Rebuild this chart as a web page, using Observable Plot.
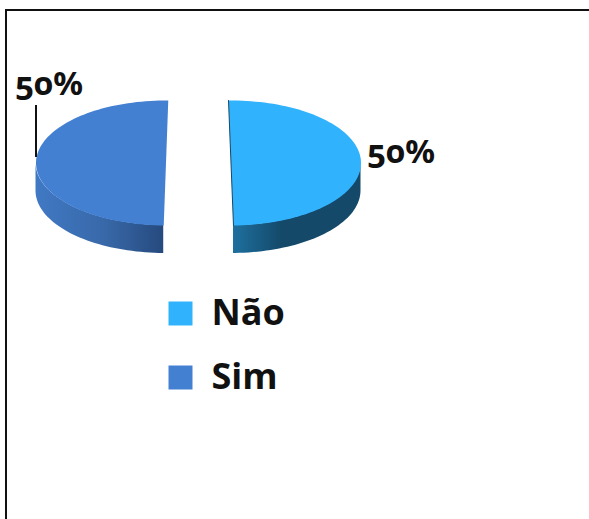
<!DOCTYPE html>
<html><head><meta charset="utf-8">
<script src="https://cdn.jsdelivr.net/npm/d3@7"></script>
<script src="https://cdn.jsdelivr.net/npm/@observablehq/plot@0.6"></script>
<style>
html,body{margin:0;padding:0;background:#fff;overflow:hidden}
#frame{position:absolute;left:5px;top:9px;width:584px;height:510px;border-top:2px solid #111;border-left:2px solid #111;box-sizing:border-box}
#chart{position:absolute;left:0;top:0}
svg{display:block}
</style></head><body>
<div id="frame"></div><div id="chart"></div>
<script>
const categories = ["Não", "Sim"];
const values = [50, 50];
const topColors = ["#31b2fc", "#4480d2"];

// layout of the exploded, tilted pie
const centers = [230.5, 165.5];
const tilts = [-1.1, 1];
const cy = 162.5, rx = 130, ry = 62.5, depth = 28, step = 2;
const labelAt = [[400.5, 152], [48.5, 84]];
const legendX = 180, legendText = 211, legendY = [313, 377];
const leaderX = 35.5, leaderY = [105, 157];

const arcs = d3.pie().sort(null).value(d => d)(values);
const rows = arcs.map((a, i) => ({
  name: categories[i], cx: centers[i],
  a0: a.startAngle * 180 / Math.PI + tilts[i],
  a1: a.endAngle * 180 / Math.PI + tilts[i]
}));
const pt = (s, deg) => ({
  name: s.name,
  x: s.cx + rx * Math.sin(deg * Math.PI / 180),
  y: cy - ry * Math.cos(deg * Math.PI / 180)
});
const faces = rows.flatMap(s => d3.range(s.a0, s.a1, step).concat(s.a1).map(d => pt(s, d)));
const side = s => {
  const lo = Math.max(s.a0, 90), hi = Math.min(s.a1, 270);
  return d3.range(lo, hi, step).concat(hi).map(d => {
    const p = pt(s, d);
    return {...p, y2: p.y + depth};
  });
};
const defs = () => {
  const e = document.createElementNS("http://www.w3.org/2000/svg", "defs");
  e.innerHTML = `
  <linearGradient id="gNao"><stop offset="0" stop-color="#1e709f"/><stop offset=".38" stop-color="#14496a"/><stop offset="1" stop-color="#14496a"/></linearGradient>
  <linearGradient id="gSim"><stop offset="0" stop-color="#4079c4"/><stop offset=".55" stop-color="#3868a8"/><stop offset="1" stop-color="#264a7e"/></linearGradient>`;
  return e;
};
const font = "'Open Sans', sans-serif";
const chart = Plot.plot({
  width: 589, height: 519, margin: 0,
  x: {domain: [0, 589], range: [0, 589], axis: null},
  y: {domain: [0, 519], range: [0, 519], axis: null},
  color: {domain: categories, range: topColors},
  style: {background: "transparent"},
  marks: [
    defs,
    Plot.areaY(side(rows[0]), {x: "x", y1: "y", y2: "y2", fill: "url(#gNao)"}),
    Plot.areaY(side(rows[1]), {x: "x", y1: "y", y2: "y2", fill: "url(#gSim)"}),
    Plot.line(faces, {x: "x", y: "y", z: "name", fill: "name", stroke: null}),
    Plot.line([pt(rows[0], rows[0].a0), pt(rows[0], rows[0].a1)], {x: "x", y: "y", stroke: "#14496a", strokeWidth: 1}),
    Plot.ruleX([leaderX], {y1: leaderY[0], y2: leaderY[1], stroke: "#111", strokeWidth: 2}),
    Plot.text(values, {
      x: (d, i) => labelAt[i][0], y: (d, i) => labelAt[i][1], text: d => d + "%",
      fontFamily: "'Noto Sans', sans-serif", fontWeight: 700, fontSize: 33, fontVariant: "oldstyle-nums", fill: "#111",
      textAnchor: "middle", lineAnchor: "middle"
    }),
    Plot.dot(categories, {x: () => legendX, y: (d, i) => legendY[i], symbol: "square", r: 13.54, fill: d => d, stroke: null}),
    Plot.text(categories, {
      x: () => legendText, y: (d, i) => legendY[i], text: d => d,
      fontFamily: font, fontWeight: 700, fontSize: 36, fill: "#111", textAnchor: "start", lineAnchor: "middle"
    })
  ]
});
document.getElementById("chart").append(chart);
</script>
</body></html>
